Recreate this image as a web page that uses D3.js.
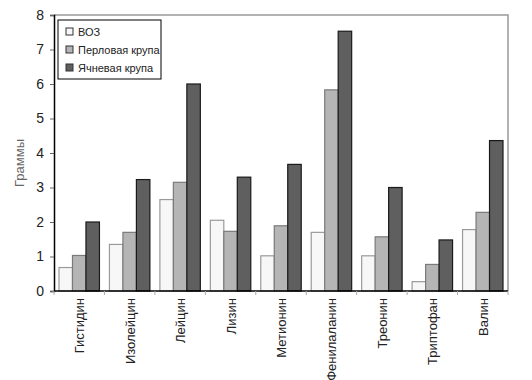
<!DOCTYPE html>
<html>
<head>
<meta charset="utf-8">
<script src="https://cdn.jsdelivr.net/npm/d3@7"></script>
<style>
  body { margin: 0; background: #fff; }
  svg text { font-family: "Liberation Sans Narrow", "Liberation Sans", Arial, sans-serif; }
</style>
</head>
<body>
<div id="figure"></div>
<script>
// data
const categories = ["Гистидин", "Изолейцин", "Лейцин", "Лизин", "Метионин",
                    "Фенилаланин", "Треонин", "Триптофан", "Валин"];
const seriesNames = ["ВОЗ", "Перловая крупа", "Ячневая крупа"];
const voz      = [0.68, 1.35, 2.65, 2.05, 1.02, 1.70, 1.02, 0.27, 1.78];
const perlovaya = [1.03, 1.70, 3.15, 1.73, 1.89, 5.83, 1.57, 0.77, 2.28];
const yachnevaya = [2.00, 3.23, 6.00, 3.30, 3.67, 7.53, 3.00, 1.48, 4.36];
const yTicks = [0, 1, 2, 3, 4, 5, 6, 7, 8];

const fills = ["#f7f7f7", "#b5b5b5", "#5f5f5f"];
const strokes = ["#9a9a9a", "#7a7a7a", "#1a1a1a"];

const margin = {top: 15, right: 24, bottom: 89, left: 54},
  width = 532 - margin.left - margin.right,
  height = 380 - margin.top - margin.bottom;

const svg = d3.select("#figure")
  .append("svg")
  .attr("width", 532)
  .attr("height", 380)
  .append("g")
  .attr("transform", `translate(${margin.left},${margin.top})`);

const x = d3.scaleBand().domain(categories).range([0, width]).paddingInner(0).paddingOuter(0);
const x1 = d3.scaleBand().domain(seriesNames).range([5, x.bandwidth() - 5]).padding(0);
const y = d3.scaleLinear().domain([0, 8]).range([height, 0]);

// frame (top and right gray borders)
svg.append("path")
  .attr("d", `M0,0H${width}V${height}`)
  .attr("fill", "none")
  .attr("stroke", "#999")
  .attr("stroke-width", 1.5);

const data = categories.map((c, i) => ({cat: c, vals: [voz[i], perlovaya[i], yachnevaya[i]]}));

const groups = svg.selectAll("g.grp")
  .data(data)
  .join("g")
  .attr("class", "grp")
  .attr("transform", d => `translate(${x(d.cat)},0)`);

groups.selectAll("rect")
  .data(d => d.vals.map((v, k) => ({k: k, v: v})))
  .join("rect")
  .attr("x", d => x1(seriesNames[d.k]))
  .attr("y", d => y(d.v))
  .attr("width", x1.bandwidth())
  .attr("height", d => height - y(d.v))
  .attr("fill", d => fills[d.k])
  .attr("stroke", d => strokes[d.k])
  .attr("stroke-width", 1.2);

// y axis
const yAxis = svg.append("g")
  .call(d3.axisLeft(y).tickValues(yTicks).tickSize(4).tickPadding(6).tickFormat(d3.format("d")));
yAxis.select(".domain").attr("stroke", "#000").attr("stroke-width", 1.5);
yAxis.selectAll(".tick line").attr("stroke", "#666");
yAxis.selectAll("text").attr("font-size", 14).attr("fill", "#222");

// x axis
const xAxis = svg.append("g")
  .attr("transform", `translate(0,${height})`);
xAxis.append("line")
  .attr("x1", 0).attr("x2", width)
  .attr("stroke", "#000").attr("stroke-width", 1.5);
xAxis.selectAll("line.tk")
  .data(categories.concat(["end"]))
  .join("line")
  .attr("class", "tk")
  .attr("x1", (d, i) => i * x.bandwidth())
  .attr("x2", (d, i) => i * x.bandwidth())
  .attr("y1", 0).attr("y2", 4)
  .attr("stroke", "#aaa");
xAxis.selectAll("text")
  .data(categories)
  .join("text")
  .attr("transform", d => `translate(${x(d) + x.bandwidth() / 2 + 5},7) rotate(-90)`)
  .attr("text-anchor", "end")
  .attr("font-size", 13)
  .attr("fill", "#222")
  .text(d => d);

// y title
svg.append("text")
  .attr("transform", `translate(-30,${height / 2 + 10}) rotate(-90)`)
  .attr("text-anchor", "middle")
  .attr("font-size", 13)
  .attr("fill", "#666")
  .text("Граммы");

// legend
const lg = svg.append("g").attr("transform", "translate(4,5)");
lg.append("rect")
  .attr("width", 103).attr("height", 59)
  .attr("fill", "#fff").attr("stroke", "#000").attr("stroke-width", 1);
seriesNames.forEach((s, k) => {
  lg.append("rect")
    .attr("x", 8).attr("y", 8 + k * 18)
    .attr("width", 7).attr("height", 7)
    .attr("fill", fills[k]).attr("stroke", "#333");
  lg.append("text")
    .attr("x", 20).attr("y", 16 + k * 18)
    .attr("font-size", 11)
    .attr("fill", "#222")
    .text(s);
});
</script>
</body>
</html>
